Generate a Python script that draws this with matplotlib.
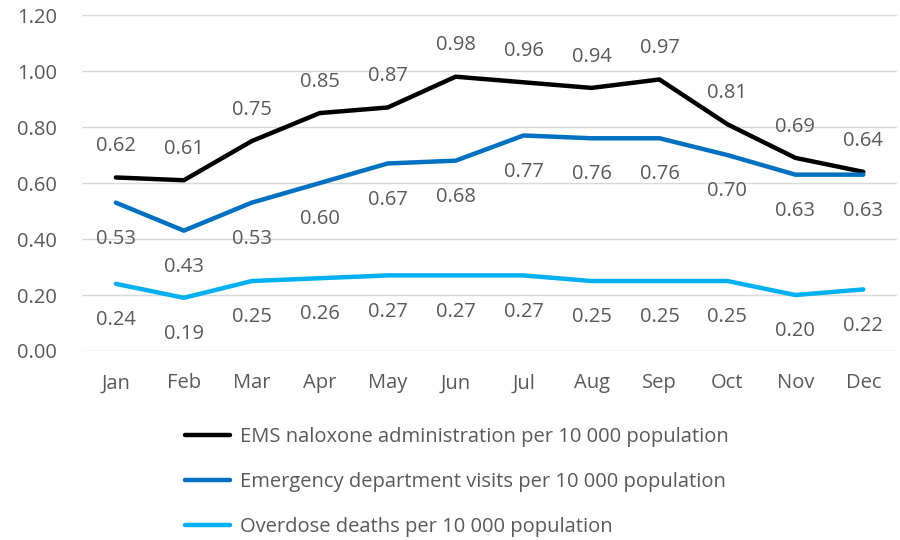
import matplotlib
matplotlib.use("Agg")
import matplotlib.pyplot as plt
import numpy as np

months = ["Jan", "Feb", "Mar", "Apr", "May", "Jun", "Jul", "Aug", "Sep", "Oct", "Nov", "Dec"]
ems = [0.62, 0.61, 0.75, 0.85, 0.87, 0.98, 0.96, 0.94, 0.97, 0.81, 0.69, 0.64]
ed = [0.53, 0.43, 0.53, 0.60, 0.67, 0.68, 0.77, 0.76, 0.76, 0.70, 0.63, 0.63]
deaths = [0.24, 0.19, 0.25, 0.26, 0.27, 0.27, 0.27, 0.25, 0.25, 0.25, 0.20, 0.22]
series_names = ["EMS naloxone administration per 10 000 population",
                "Emergency department visits per 10 000 population",
                "Overdose deaths per 10 000 population"]
yticks = [0.0, 0.2, 0.4, 0.6, 0.8, 1.0, 1.2]

plt.rcParams['font.family'] = ['Open Sans', 'DejaVu Sans']
txt = "#595959"
fs = 14.5

fig = plt.figure(figsize=(9, 5.4), dpi=100)
ax = fig.add_axes([0.091, 0.35, 0.906, 0.622])
x = np.arange(len(months))
colors = ["#000000", "#0070C0", "#00B0F0"]
data = [ems, ed, deaths]
offsets = [22.5, -26, -26]
lines = []
for vals, c, name, off in zip(data, colors, series_names, offsets):
    ln, = ax.plot(x, vals, color=c, lw=3.2, solid_capstyle="round", solid_joinstyle="round", label=name, zorder=3)
    lines.append(ln)
    for xi, v in zip(x, vals):
        ax.annotate(f"{v:.2f}", (xi, v), xytext=(0, off), textcoords="offset points",
                    ha="center", va="center", fontsize=fs, color=txt)

ax.set_xlim(-0.5, len(months) - 0.5)
ax.set_ylim(0, 1.2)
ax.set_yticks(yticks)
ax.set_yticklabels([f"{t:.2f}" for t in yticks])
ax.set_xticks(x)
ax.set_xticklabels(months)
ax.tick_params(axis="both", length=0, labelsize=fs, colors=txt)
ax.tick_params(axis="y", pad=18)
ax.tick_params(axis="x", pad=16)
ax.grid(axis="y", color="#D9D9D9", lw=1)
ax.set_axisbelow(True)
for s in ax.spines.values():
    s.set_visible(False)

leg = fig.legend(handles=lines, loc="upper left", bbox_to_anchor=(0.197, 0.225), ncol=1,
                 frameon=False, fontsize=fs, handlelength=2.2, handletextpad=0.5,
                 labelspacing=1.25, borderaxespad=0)
for t in leg.get_texts():
    t.set_color(txt)

fig.savefig("out.png", dpi=100)
